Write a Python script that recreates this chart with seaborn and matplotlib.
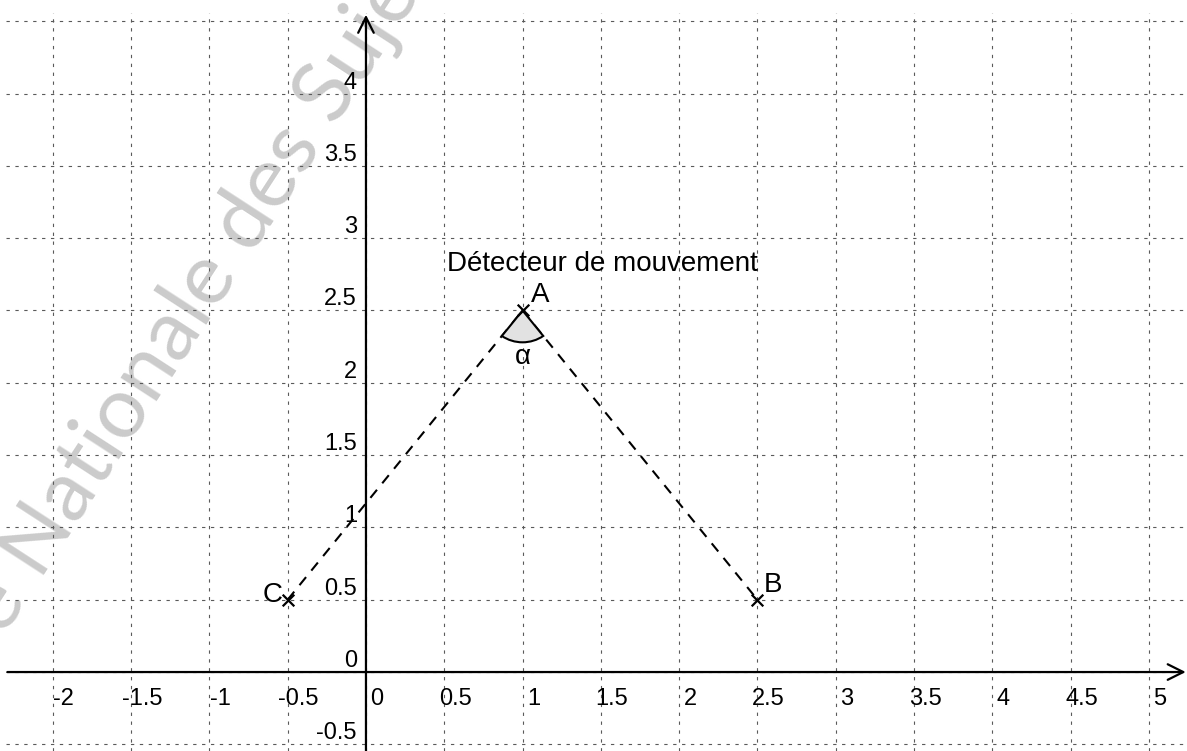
"""
Repère : détecteur de mouvement A, points B et C
"""

import numpy as np
import pandas as pd
import matplotlib.pyplot as plt
import matplotlib.patches as mpatches
import seaborn as sns

# ============================================================================
# DONNÉES
# ============================================================================

pt_names = ['A', 'B', 'C']
pt_x = [1.0, 2.5, -0.5]
pt_y = [2.5, 0.5, 0.5]

x_ticks = [-2, -1.5, -1, -0.5, 0, 0.5, 1, 1.5, 2, 2.5, 3, 3.5, 4, 4.5, 5]
x_labels = ['-2', '-1.5', '-1', '-0.5', '0', '0.5', '1', '1.5', '2', '2.5',
            '3', '3.5', '4', '4.5', '5']
y_ticks = [-0.5, 0, 0.5, 1, 1.5, 2, 2.5, 3, 3.5, 4]
y_labels = ['-0.5', '0', '0.5', '1', '1.5', '2', '2.5', '3', '3.5', '4']
grid_y = [-0.5, 0, 0.5, 1, 1.5, 2, 2.5, 3, 3.5, 4, 4.5]

title_txt = 'Détecteur de mouvement'
angle_txt = 'α'
watermark = 'e Nationale des Sujets'

# ============================================================================
# FIGURE
# ============================================================================

sns.set_style("white")
plt.rcParams['font.family'] = ['Liberation Sans', 'DejaVu Sans']
plt.rcParams['text.color'] = 'black'

fig = plt.figure(figsize=(11.87, 7.51), dpi=100)
ax = fig.add_axes([0, 0, 1, 1])
ax.set_xlim(-2.337, 5.243)
ax.set_ylim(-0.546, 4.647)
ax.axis('off')

# filigrane (sous tout le reste)
ax.text(0.002, 0.152, watermark, transform=fig.transFigure, rotation=57,
        rotation_mode='anchor', ha='left', va='baseline', fontsize=62,
        color='#cbcbcb', family=['Lato', 'DejaVu Sans'], zorder=0)

# quadrillage pointillé
ax.vlines(x_ticks, -0.546, 4.56, colors='#5a5a5a', linewidth=0.8,
          linestyles=(0, (3, 5)), zorder=1)
ax.hlines(grid_y, -2.3, 5.243, colors='#5a5a5a', linewidth=0.8,
          linestyles=(0, (3, 5)), zorder=1)

# axes avec flèches
ax.annotate('', xy=(5.235, 0), xytext=(-2.29, 0),
            arrowprops=dict(arrowstyle='->', lw=1.6, color='k',
                            mutation_scale=28, shrinkA=0, shrinkB=0), zorder=3)
ax.annotate('', xy=(0, 4.545), xytext=(0, -0.546),
            arrowprops=dict(arrowstyle='->', lw=1.6, color='k',
                            mutation_scale=28, shrinkA=0, shrinkB=0), zorder=3)

# graduations
for t, lab in zip(x_ticks, x_labels):
    ax.annotate(lab, xy=(t, 0), xytext=(11, -16), textcoords='offset pixels',
                ha='center', va='top', fontsize=17)
for t, lab in zip(y_ticks, y_labels):
    ax.annotate(lab, xy=(0, t), xytext=(-9, 5), textcoords='offset pixels',
                ha='right', va='baseline', fontsize=17)

# segments en tirets A-B et A-C
iA = pt_names.index('A')
for name in ['B', 'C']:
    i = pt_names.index(name)
    sns.lineplot(x=[pt_x[iA], pt_x[i]], y=[pt_y[iA], pt_y[i]], ax=ax,
                 color='k', linewidth=1.5, linestyle=(0, (5, 4)), zorder=4)

# points
sns.scatterplot(x=pt_x, y=pt_y, marker='x', color='k', s=70,
                linewidth=1.6, ax=ax, zorder=5)

offsets = {'A': (8, 8, 'left'), 'B': (6, 8, 'left'), 'C': (-5, -2, 'right')}
for name, x, y in zip(pt_names, pt_x, pt_y):
    dx, dy, ha = offsets[name]
    ax.annotate(name, xy=(x, y), xytext=(dx, dy), textcoords='offset pixels',
                ha=ha, va='baseline', fontsize=20)

# secteur angulaire en A
xa, ya = pt_x[iA], pt_y[iA]
ang_c = np.degrees(np.arctan2(pt_y[2] - ya, pt_x[2] - xa)) % 360
ang_b = np.degrees(np.arctan2(pt_y[1] - ya, pt_x[1] - xa)) % 360
wedge = mpatches.Wedge((xa, ya), 0.22, ang_c, ang_b, facecolor='#e2e2e2',
                       edgecolor='k', linewidth=1.5, zorder=4)
ax.add_patch(wedge)
ax.annotate(angle_txt, xy=(xa, ya), xytext=(0, -47), textcoords='offset pixels',
            ha='center', va='center', fontsize=20)

ax.text(0.517, 2.773, title_txt, ha='left', va='baseline', fontsize=20)

plt.savefig('out.png', dpi=100)
